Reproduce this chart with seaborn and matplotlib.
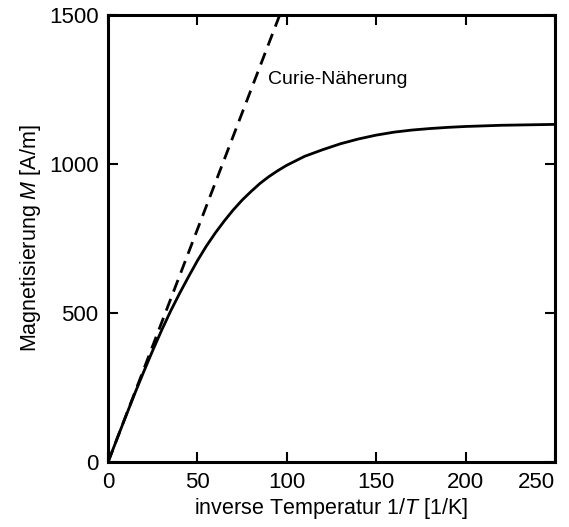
import matplotlib
matplotlib.use("Agg")
import matplotlib.pyplot as plt
import seaborn as sns
import pandas as pd

# Data
inv_T = [0, 5, 10, 15, 20, 25, 30, 35, 40, 45, 50, 55, 60, 65, 70, 75, 80, 85, 90, 95,
         100, 110, 120, 130, 140, 150, 160, 170, 180, 190, 200, 210, 220, 230, 240, 250]
magnet = [0, 78, 155, 231, 304, 375, 443, 507, 566, 622, 676, 725, 769, 809, 846, 879,
          908, 935, 958, 978, 996, 1026, 1048, 1068, 1084, 1097, 1107, 1114, 1119, 1123,
          1126, 1128, 1130, 1131, 1132, 1133]
curie_x = [0, 96]
curie_y = [0, 1500]

x_ticks = [0, 50, 100, 150, 200, 250]
y_ticks = [0, 500, 1000, 1500]

sns.set_theme(style="ticks")
plt.rcParams["font.family"] = ["Liberation Sans", "DejaVu Sans"]
plt.rcParams["mathtext.fontset"] = "custom"
plt.rcParams["mathtext.it"] = "Liberation Sans:italic"
plt.rcParams["mathtext.rm"] = "Liberation Sans"

fig = plt.figure(figsize=(5.69, 5.27), dpi=100)
ax = fig.add_axes([0.19, 0.1233, 0.7854, 0.8482])

df = pd.DataFrame({"x": inv_T, "M": magnet})
dc = pd.DataFrame({"x": curie_x, "M": curie_y})
sns.lineplot(data=df, x="x", y="M", ax=ax, color="black", linewidth=2.0)
sns.lineplot(data=dc, x="x", y="M", ax=ax, color="black", linewidth=2.0,
             dashes=False, linestyle=(0, (4.5, 2.8)))

ax.set_xlim(0, 250)
ax.set_ylim(0, 1500)
ax.set_xticks(x_ticks)
ax.set_yticks(y_ticks)
ax.tick_params(direction="in", length=7, width=1.5, top=True, right=True,
               labelsize=16, colors="black", pad=7)
for s in ax.spines.values():
    s.set_linewidth(2.2)
    s.set_color("black")

# keep the last x tick label inside the figure, as in the reference
ax.set_xticklabels([str(t) for t in x_ticks])
ax.get_xticklabels()[-1].set_horizontalalignment("right")

ax.set_xlabel("inverse Temperatur 1/$T$ [1/K]", fontsize=15.5, color="black", labelpad=2)
ax.set_ylabel("Magnetisierung $M$ [A/m]", fontsize=15.5, color="black", labelpad=4)
ax.text(89.5, 1285, "Curie-Näherung", fontsize=14, color="black", va="center")

fig.savefig("out.png", dpi=100)
